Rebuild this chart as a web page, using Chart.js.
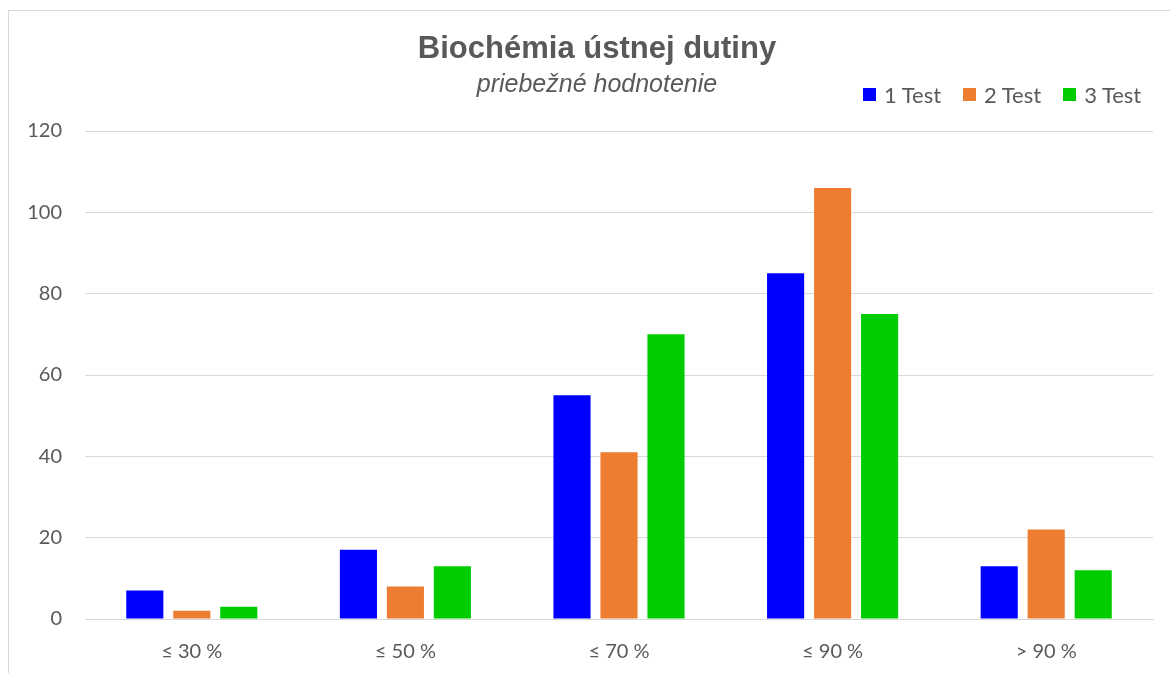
<!DOCTYPE html>
<html lang="sk">
<head>
<meta charset="utf-8">
<title>Biochémia ústnej dutiny</title>
<script src="https://cdn.jsdelivr.net/npm/chart.js@4.4.1/dist/chart.umd.min.js"></script>
<style>
  html, body { margin: 0; padding: 0; background: #fff; overflow: hidden; }
  #wrap { position: relative; width: 1170px; height: 673px; }
  #ramcek {
    position: absolute; left: 8px; top: 10px; width: 1200px; height: 700px;
    border: 1px solid #d9d9d9; box-sizing: border-box;
  }
  #graf { position: absolute; left: 0; top: 0; }
  .nadpis {
    position: absolute; left: 0; width: 1194px; text-align: center; color: #595959;
    font-family: "Liberation Sans", Arial, sans-serif; white-space: nowrap;
  }
  #nadpis { top: 29px; font-size: 31px; font-weight: bold; line-height: 37px; }
  #podnadpis { top: 68px; font-size: 25px; font-style: italic; line-height: 30px; }
  #legenda {
    position: absolute; left: 863px; top: 81px;
    display: flex; gap: 22px;
    font-family: Lato, "Noto Sans", sans-serif; font-size: 22px; color: #595959;
  }
  #legenda .polozka { display: flex; align-items: center; gap: 8px; }
  #legenda .stvorec { width: 13px; height: 13px; display: inline-block; }
</style>
</head>
<body>
<div id="wrap">
  <div id="ramcek"></div>
  <canvas id="graf" width="1170" height="673"></canvas>
  <div id="nadpis" class="nadpis">Biochémia ústnej dutiny</div>
  <div id="podnadpis" class="nadpis">priebežné hodnotenie</div>
  <div id="legenda"></div>
</div>
<script>
// Dáta odčítané z obrázka
const kategorie = ["≤ 30 %", "≤ 50 %", "≤ 70 %", "≤ 90 %", "> 90 %"];
const test1 = [7, 17, 55, 85, 13];
const test2 = [2, 8, 41, 106, 22];
const test3 = [3, 13, 70, 75, 12];
const nazvySerii = ["1 Test", "2 Test", "3 Test"];
const farby = ["#0000ff", "#ed7d31", "#00cc00"];

const SIVA = "#595959";
const MRIEZKA = "#d9d9d9";

Chart.defaults.font.family = "Lato, 'Noto Sans', sans-serif";
Chart.defaults.color = SIVA;

const datasety = [test1, test2, test3].map((hodnoty, i) => ({
  label: nazvySerii[i],
  data: hodnoty,
  backgroundColor: farby[i],
  borderWidth: 0,
  categoryPercentage: 0.66,
  barPercentage: 0.79,
}));

const graf = new Chart(document.getElementById("graf"), {
  type: "bar",
  data: { labels: kategorie, datasets: datasety },
  options: {
    responsive: false,
    animation: false,
    // nadpis, podnadpis a legenda sú v HTML nad plátnom (legenda je v riadku s podnadpisom)
    layout: { padding: { left: 0, right: 17, top: 131, bottom: 0 } },
    plugins: {
      legend: { display: false },
      tooltip: { enabled: false },
    },
    scales: {
      x: {
        grid: { display: false },
        border: { display: true, color: MRIEZKA, width: 1 },
        ticks: { color: SIVA, font: { size: 20 }, padding: 13 },
        afterFit: (s) => { s.height = 54; },
      },
      y: {
        min: 0,
        max: 120,
        grid: { color: MRIEZKA, lineWidth: 1, drawTicks: false },
        border: { display: false },
        ticks: { stepSize: 20, color: SIVA, font: { size: 20 }, padding: 23 },
        afterFit: (s) => { s.width = 85; },
      },
    },
  },
});

// Legenda vpravo hore
const legenda = document.getElementById("legenda");
graf.data.datasets.forEach((ds) => {
  const polozka = document.createElement("span");
  polozka.className = "polozka";
  const stvorec = document.createElement("span");
  stvorec.className = "stvorec";
  stvorec.style.background = ds.backgroundColor;
  const text = document.createElement("span");
  text.textContent = ds.label;
  polozka.append(stvorec, text);
  legenda.appendChild(polozka);
});
</script>
</body>
</html>
